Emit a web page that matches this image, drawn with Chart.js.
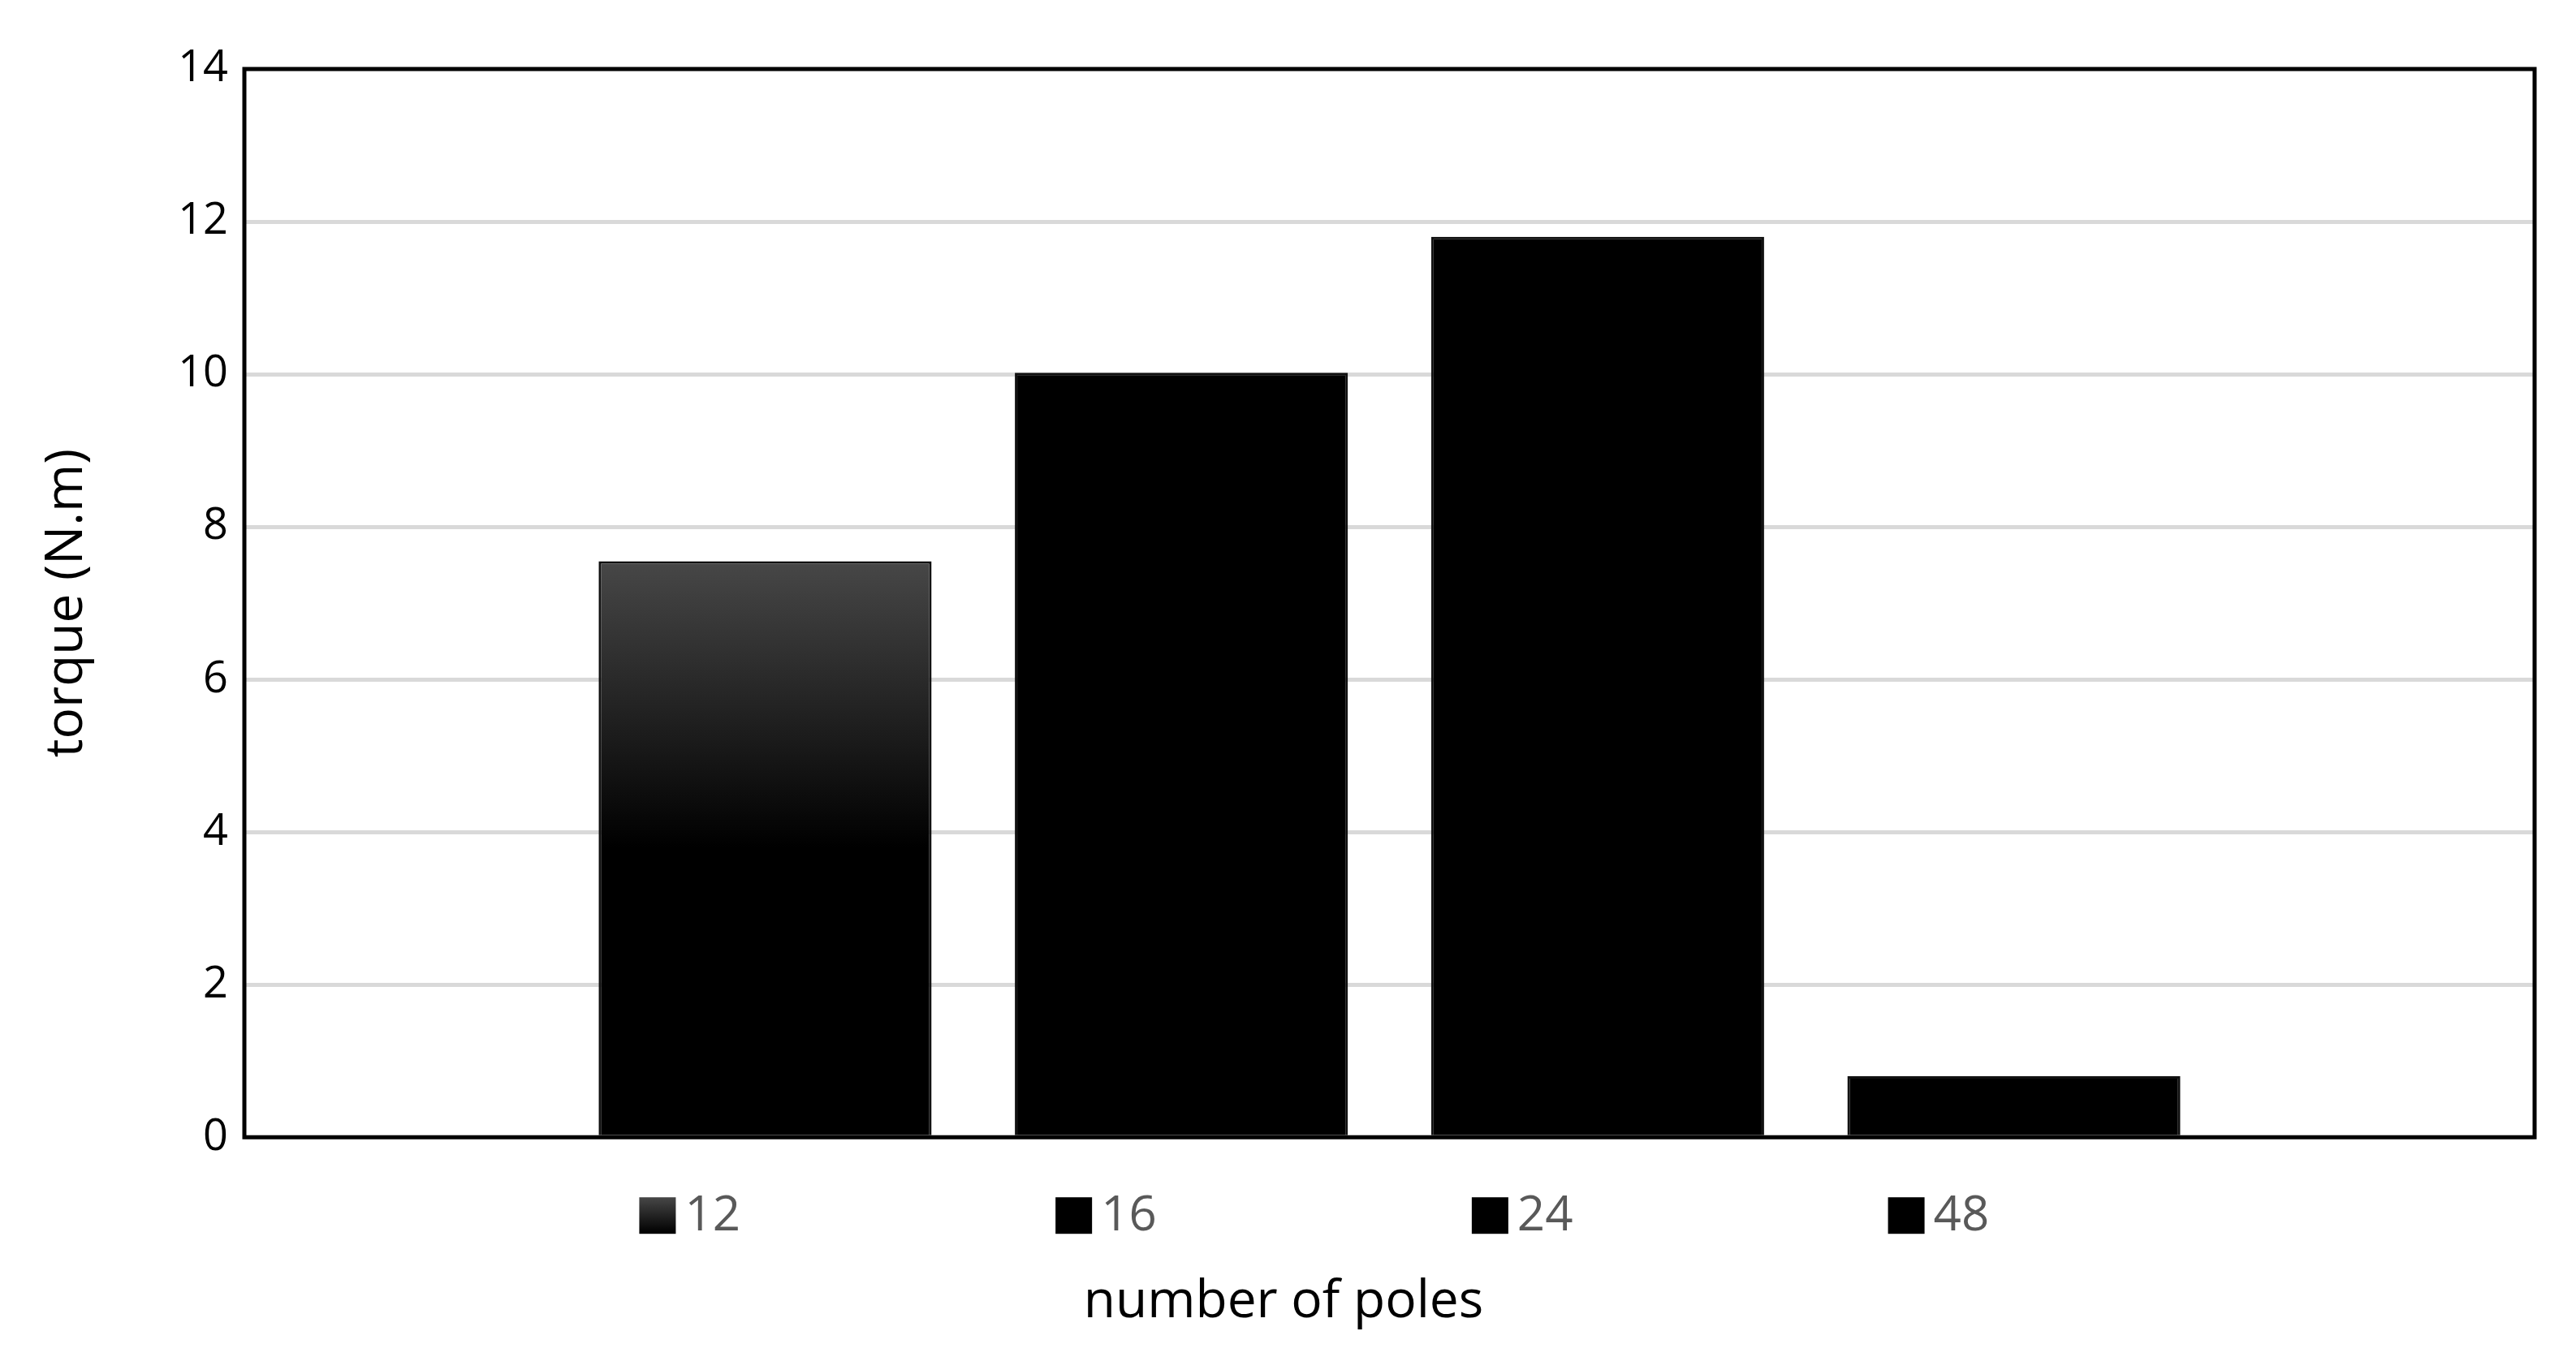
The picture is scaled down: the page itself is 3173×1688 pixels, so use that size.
<!DOCTYPE html>
<html>
<head>
<meta charset="utf-8">
<script src="https://cdn.jsdelivr.net/npm/chart.js@4"></script>
<style>
  html, body { margin: 0; padding: 0; background: #fff; }
  #wrap { width: 3173px; height: 1688px; }
</style>
</head>
<body>
<div id="wrap"><canvas id="chart"></canvas></div>
<script>
// ======= DADOS =======
const categorias = [""];
const polos = ["12", "16", "24", "48"];
const torque = [7.55, 10.02, 11.8, 0.8];
const yTicks = [0, 2, 4, 6, 8, 10, 12, 14];

const fonte = "'Open Sans', 'Liberation Sans', sans-serif";

// gradiente da primeira barra (cinza em cima, preto a partir de ~4)
function gradiente(chart, yTopo, yFim) {
  const g = chart.ctx.createLinearGradient(0, yTopo, 0, yFim);
  g.addColorStop(0, "#474747");
  g.addColorStop(1, "#000");
  return g;
}

function corBarra(ctx, i) {
  if (i !== 0) return "#000";
  const chart = ctx.chart;
  const y = chart.scales.y;
  if (!y || !chart.chartArea) return "#222";
  return gradiente(chart, y.getPixelForValue(torque[0]), y.getPixelForValue(3.8));
}

// borda do gráfico + legenda desenhada abaixo de cada barra
const extras = {
  id: "extras",
  afterDatasetsDraw(chart) {
    const { ctx, chartArea: a } = chart;
    ctx.save();
    ctx.strokeStyle = "#000";
    ctx.lineWidth = 5;
    ctx.strokeRect(a.left, a.top, a.right - a.left, a.bottom - a.top);

    const yLeg = a.bottom + 96;
    ctx.font = "60px " + fonte;
    ctx.textBaseline = "middle";
    chart.data.datasets.forEach((ds, i) => {
      const bar = chart.getDatasetMeta(i).data[0];
      const x0 = bar.x - 155;
      ctx.fillStyle = i === 0 ? gradiente(chart, yLeg - 22, yLeg + 22) : "#000";
      ctx.fillRect(x0, yLeg - 22, 45, 45);
      ctx.fillStyle = "#595959";
      ctx.fillText(ds.label, x0 + 56, yLeg + 2);
    });
    ctx.restore();
  },
};

new Chart(document.getElementById("chart"), {
  type: "bar",
  data: {
    labels: categorias,
    datasets: polos.map((p, i) => ({
      label: p,
      data: [torque[i]],
      backgroundColor: (ctx) => corBarra(ctx, i),
      borderColor: "#111",
      borderWidth: 3,
      categoryPercentage: 0.727,
      barPercentage: 0.8,
    })),
  },
  options: {
    responsive: true,
    maintainAspectRatio: false,
    animation: false,
    devicePixelRatio: 1,
    layout: { padding: { left: 40, right: 51, top: 85, bottom: 45 } },
    plugins: {
      tooltip: { enabled: false },
      legend: { display: false },
      title: {
        display: true,
        position: "bottom",
        text: "number of poles",
        color: "#000",
        font: { family: fonte, size: 64, weight: "normal" },
        padding: { top: 0, bottom: 0 },
      },
    },
    scales: {
      x: {
        grid: { display: false },
        border: { display: false },
        ticks: { display: false },
        afterFit: (s) => { s.height = 165; },
      },
      y: {
        min: 0,
        max: 14,
        afterBuildTicks: (s) => { s.ticks = yTicks.map((v) => ({ value: v })); },
        ticks: { color: "#000", font: { family: fonte, size: 54 }, padding: 20 },
        grid: { color: "#d9d9d9", lineWidth: 5, drawTicks: false },
        border: { display: false },
        title: {
          display: true,
          text: "torque (N.m)",
          color: "#000",
          font: { family: fonte, size: 64 },
          padding: { bottom: 20 },
        },
        afterFit: (s) => { s.width = 261; },
      },
    },
  },
  plugins: [extras],
});
</script>
</body>
</html>
